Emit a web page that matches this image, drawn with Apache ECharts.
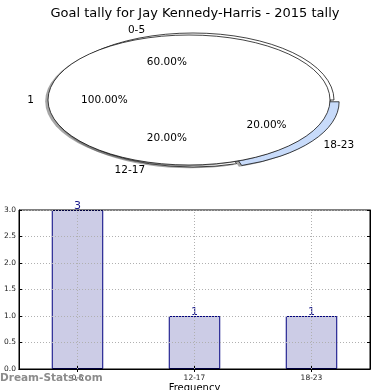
<!DOCTYPE html>
<html>
<head>
<meta charset="utf-8">
<script src="https://cdn.jsdelivr.net/npm/echarts@6/dist/echarts.min.js"></script>
<style>html,body{margin:0;padding:0;background:#fff}#c{width:390px;height:390px}</style>
</head>
<body>
<div id="c"></div>
<script>
// ---- data ----
const titleText = 'Goal tally for Jay Kennedy-Harris - 2015 tally';
const categories = ['0-5', '12-17', '18-23'];
const goalCounts = [3, 1, 1];
const overlayLabels = ['1'];
const overlayValues = [1];
const yMin = 0, yMax = 3, yStep = 0.5;

// ---- styles ----
const sliceColors = ['#ffffff', '#ffffff', '#c8dbfa'];
const sliceExplode = [0, 0, 0.045];
const overlayColors = ['#ffffff'];
const FONT = '"DejaVu Sans", sans-serif';
const pieGeomA = { cx: 193, cy: 100, rx: 141, ry: 67 };
const pieGeomB = { cx: 189, cy: 100, rx: 141, ry: 65 };

function pieRenderer(values, labels, colors, explode, g, mode) {
  const total = values.reduce((a, b) => a + b, 0);
  return function (params, api) {
    const i = params.dataIndex;
    const v = api.value(0);
    let before = 0;
    for (let j = 0; j < i; j++) before += values[j];
    const a0 = before / total * 2 * Math.PI;
    const a1 = (before + v) / total * 2 * Math.PI;
    const mid = (a0 + a1) / 2;
    const ex = explode[i] || 0;
    const ox = ex * Math.cos(mid), oy = ex * Math.sin(mid);
    const k = g.ry / g.rx;
    const sector = (dx, dy, style) => ({
      type: 'sector',
      shape: { cx: (ox + dx) * g.rx, cy: -(oy + dy) * g.rx, r: g.rx, r0: 0,
               startAngle: -a0, endAngle: -a1, clockwise: false },
      style: style
    });
    if (mode === 'shadow') {
      return { type: 'group', x: g.cx, y: g.cy, scaleY: k,
        children: [sector(-0.02, -0.02, { fill: 'rgba(77,77,77,0.5)' })] };
    }
    const lx = g.cx + (ox + 1.1 * Math.cos(mid)) * g.rx;
    const ly = g.cy - (oy + 1.1 * Math.sin(mid)) * g.ry;
    const px = g.cx + (ox + 0.6 * Math.cos(mid)) * g.rx;
    const py = g.cy - (oy + 0.6 * Math.sin(mid)) * g.ry;
    return {
      type: 'group',
      children: [
        { type: 'group', x: g.cx, y: g.cy, scaleY: k,
          children: [sector(0, 0, { fill: colors[i], stroke: '#000', lineWidth: 1, strokeNoScale: true })] },
        { type: 'text', x: lx, y: ly, z2: 10,
          style: { text: labels[i], fill: '#000', font: '10.5px ' + FONT,
                   align: Math.cos(mid) > 0 ? 'left' : 'right', verticalAlign: 'middle' } },
        { type: 'text', x: px, y: py, z2: 10,
          style: { text: (v / total * 100).toFixed(2) + '%', fill: '#000', font: '10.5px ' + FONT,
                   align: 'center', verticalAlign: 'middle' } }
      ]
    };
  };
}

const chart = echarts.init(document.getElementById('c'));
const gridLine = { show: true, lineStyle: { color: '#b0b0b0', type: [1, 2], width: 1 } };
chart.setOption({
  animation: false,
  backgroundColor: '#fff',
  title: { text: titleText, left: 'center', top: 2,
           textStyle: { fontFamily: FONT, fontSize: 13, fontWeight: 'normal', color: '#000' } },
  graphic: [{ type: 'text', left: 0, top: 373, z: 100,
              style: { text: 'Dream-Stats.com', fill: '#8c8c8c', font: 'bold 10.5px ' + FONT } }],
  grid: { left: 19, right: 20, top: 210, bottom: 21, show: true, borderColor: '#000', borderWidth: 1, z: 4,
          outerBoundsMode: 'none', containLabel: false },
  xAxis: [
    { type: 'category', data: categories, position: 'bottom', z: 4,
      axisLine: { show: true, lineStyle: { color: '#000' } },
      axisTick: { show: true, alignWithLabel: true, inside: true, length: 3, lineStyle: { color: '#000' } },
      axisLabel: { fontFamily: FONT, fontSize: 7.5, color: '#222', margin: 5 },
      splitLine: { show: false },
      name: 'Frequency', nameLocation: 'middle', nameGap: 14,
      nameTextStyle: { fontFamily: FONT, fontSize: 10, color: '#000' } },
    { type: 'category', data: categories, position: 'top', z: 4,
      axisLine: { show: true, lineStyle: { color: '#000' } },
      axisTick: { show: true, alignWithLabel: true, inside: true, length: 3, lineStyle: { color: '#000' } },
      axisLabel: { show: false }, splitLine: { show: false } }
  ],
  yAxis: [
    { type: 'value', min: yMin, max: yMax, interval: yStep, z: 4,
      axisLine: { show: true, lineStyle: { color: '#000' } },
      axisTick: { show: true, inside: true, length: 3, lineStyle: { color: '#000' } },
      axisLabel: { fontFamily: FONT, fontSize: 7.5, color: '#222', margin: 3,
                   formatter: v => v.toFixed(1) },
      splitLine: gridLine },
    { type: 'value', min: yMin, max: yMax, interval: yStep, position: 'right', z: 4,
      axisLine: { show: true, lineStyle: { color: '#000' } },
      axisTick: { show: true, inside: true, length: 3, lineStyle: { color: '#000' } },
      axisLabel: { show: false }, splitLine: { show: false } }
  ],
  series: [
    { type: 'bar', data: goalCounts, barWidth: '44%', xAxisIndex: 0, yAxisIndex: 0,
      itemStyle: { color: '#cccce6', borderColor: '#000080', borderWidth: 1 },
      label: { show: true, position: 'top', distance: -2, color: '#1a1a8c',
               fontFamily: FONT, fontSize: 11 },
      markLine: { silent: true, symbol: 'none', z: 5, label: { show: false },
                  lineStyle: { color: '#b0b0b0', type: [1, 2], width: 1 },
                  data: categories.map(c => ({ xAxis: c })) } },
    { type: 'custom', coordinateSystem: 'none', data: goalCounts, silent: true,
      renderItem: pieRenderer(goalCounts, categories, sliceColors, sliceExplode, pieGeomA, 'shadow') },
    { type: 'custom', coordinateSystem: 'none', data: goalCounts, silent: true,
      renderItem: pieRenderer(goalCounts, categories, sliceColors, sliceExplode, pieGeomA, 'pie') },
    { type: 'custom', coordinateSystem: 'none', data: overlayValues, silent: true,
      renderItem: pieRenderer(overlayValues, overlayLabels, overlayColors, [0], pieGeomB, 'shadow') },
    { type: 'custom', coordinateSystem: 'none', data: overlayValues, silent: true,
      renderItem: pieRenderer(overlayValues, overlayLabels, overlayColors, [0], pieGeomB, 'pie') }
  ]
});
</script>
</body>
</html>
